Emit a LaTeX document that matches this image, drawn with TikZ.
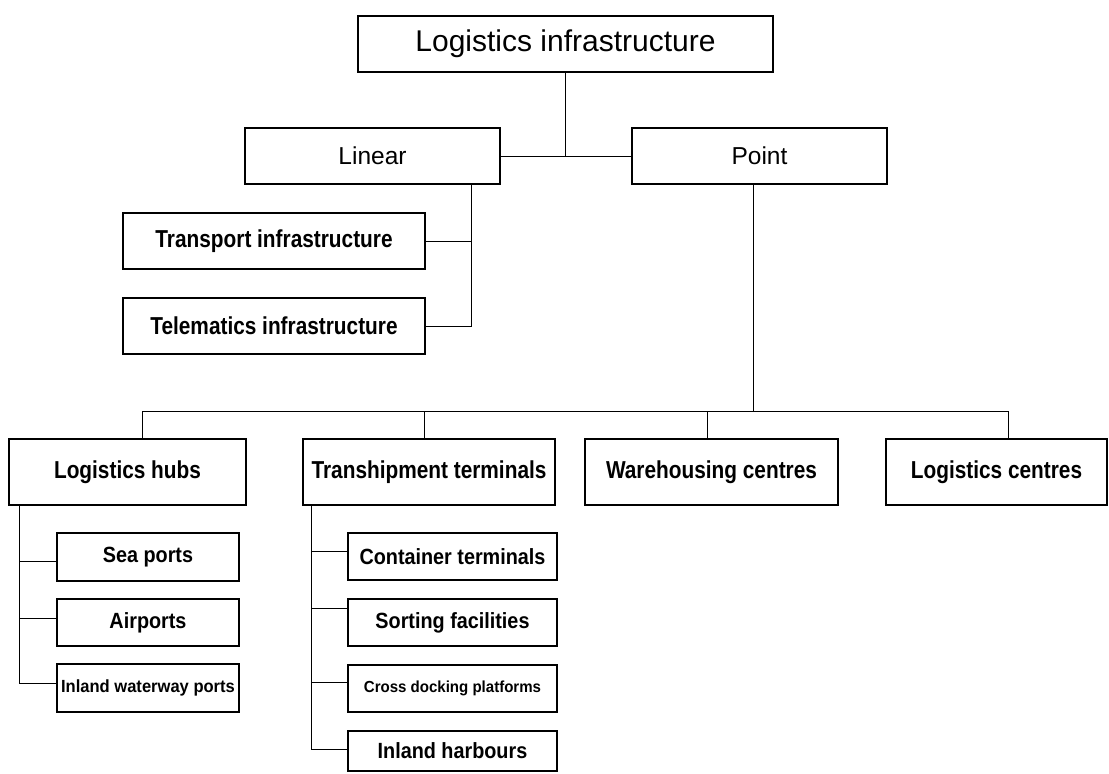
\documentclass[tikz,border=0pt]{standalone}
\usepackage{fontspec}
\setmainfont{Liberation Sans}
\newfontfamily\bA{Liberation Sans}[FakeStretch=0.85]
\newfontfamily\bB{Liberation Sans}[FakeStretch=0.9]
\newfontfamily\bC{Liberation Sans}[FakeStretch=0.94]
\begin{document}
\begin{tikzpicture}[x=1pt,y=-1pt,
  box/.style={draw=black,line width=2pt,fill=white,inner sep=0pt,align=center},
  conn/.style={draw=black,line width=1pt},
  topfont/.style={font=\fontsize{30}{34}\selectfont},
  regfont/.style={font=\fontsize{24.5}{28}\selectfont},
  midfont/.style={font=\bA\bfseries\fontsize{24.5}{28}\selectfont},
  subfont/.style={font=\bB\bfseries\fontsize{22}{25}\selectfont},
  smallfont/.style={font=\bC\bfseries\fontsize{17.6}{20}\selectfont},
  tinyfont/.style={font=\bC\bfseries\fontsize{16}{19}\selectfont}]
\useasboundingbox (0,0) rectangle (1109,774);
% top level
\node[box,topfont,minimum width=415pt,minimum height=56pt] (top) at (565.5,44) {Logistics infrastructure};
\node[box,regfont,minimum width=255pt,minimum height=56pt] (linear) at (372.5,156) {Linear};
\node[box,regfont,minimum width=255pt,minimum height=56pt] (point) at (759.5,156) {Point};
% linear children
\node[box,midfont,minimum width=302pt,minimum height=56pt] (transport) at (274,241) {Transport infrastructure};
\node[box,midfont,minimum width=302pt,minimum height=56pt] (telematics) at (274,326) {Telematics infrastructure};
% point children
\node[box,midfont,minimum width=237pt,minimum height=66pt] (hubs) at (127.5,472) {Logistics hubs};
\node[box,midfont,minimum width=252pt,minimum height=66pt] (tranship) at (429,472) {Transhipment terminals};
\node[box,midfont,minimum width=253pt,minimum height=66pt] (ware) at (711.5,472) {Warehousing centres};
\node[box,midfont,minimum width=221pt,minimum height=66pt] (lcentres) at (996.5,472) {Logistics centres};
% hubs children
\node[box,subfont,minimum width=182pt,minimum height=48pt] (sea) at (148,557) {Sea ports};
\node[box,subfont,minimum width=182pt,minimum height=47pt] (air) at (148,622.5) {Airports};
\node[box,smallfont,minimum width=182pt,minimum height=48pt] (inland) at (148,688) {Inland waterway ports};
% transhipment children
\node[box,subfont,minimum width=209pt,minimum height=47pt] (container) at (452.5,556.5) {Container terminals};
\node[box,subfont,minimum width=209pt,minimum height=47pt] (sorting) at (452.5,622.5) {Sorting facilities};
\node[box,tinyfont,minimum width=209pt,minimum height=47pt] (cross) at (452.5,688.5) {Cross docking platforms};
\node[box,subfont,minimum width=209pt,minimum height=40pt] (harbours) at (452.5,751) {Inland harbours};
% helper coordinates
\coordinate (lx) at (471,0);
\coordinate (px) at (753.5,0);
\coordinate (bus) at (0,411);
\coordinate (d1) at (142,0);
\coordinate (d2) at (424,0);
\coordinate (d3) at (707,0);
\coordinate (d4) at (1008,0);
\coordinate (hx) at (19,0);
\coordinate (tx) at (311,0);
% connectors
\draw[conn] (top.south) -- (top.south |- linear.east);
\draw[conn] (linear.east) -- (point.west);
\draw[conn] (linear.south -| lx) |- (telematics.east);
\draw[conn] (transport.east) -- (transport.east -| lx);
\draw[conn] (point.south -| px) -- (px |- bus);
\draw[conn] (hubs.north -| d1) |- (bus -| d4) -- (lcentres.north -| d4);
\draw[conn] (tranship.north -| d2) -- (bus -| d2);
\draw[conn] (ware.north -| d3) -- (bus -| d3);
\draw[conn] (hubs.south -| hx) |- ([yshift=5pt]inland.west);
\draw[conn] ([yshift=-4pt]sea.west) -- ([yshift=-4pt]sea.west -| hx);
\draw[conn] ([yshift=4.5pt]air.west) -- ([yshift=4.5pt]air.west -| hx);
\draw[conn] (tranship.south -| tx) |- ([yshift=2pt]harbours.west);
\draw[conn] ([yshift=5.5pt]container.west) -- ([yshift=5.5pt]container.west -| tx);
\draw[conn] ([yshift=14.5pt]sorting.west) -- ([yshift=14.5pt]sorting.west -| tx);
\draw[conn] ([yshift=6.5pt]cross.west) -- ([yshift=6.5pt]cross.west -| tx);
\end{tikzpicture}
\end{document}
